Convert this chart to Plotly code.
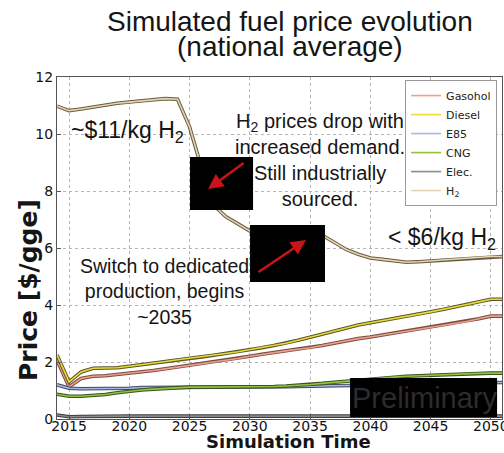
import plotly.graph_objects as go

years = [2014, 2015, 2016, 2017, 2018, 2019, 2020, 2021, 2022, 2023, 2024, 2025,
         2026, 2027, 2028, 2029, 2030, 2031, 2032, 2033, 2034, 2035, 2036, 2037,
         2038, 2039, 2040, 2041, 2042, 2043, 2044, 2045, 2046, 2047, 2048, 2049,
         2050, 2051]

gasohol = [2.07, 1.13, 1.42, 1.50, 1.52, 1.56, 1.60, 1.65, 1.70, 1.76, 1.82, 1.88,
           1.93, 1.99, 2.05, 2.12, 2.20, 2.27, 2.33, 2.39, 2.45, 2.50, 2.58, 2.66,
           2.75, 2.82, 2.88, 2.95, 3.02, 3.09, 3.16, 3.23, 3.29, 3.35, 3.42, 3.52,
           3.61, 3.61]
diesel = [2.25, 1.30, 1.65, 1.78, 1.79, 1.80, 1.85, 1.90, 1.96, 2.02, 2.08, 2.13,
          2.18, 2.24, 2.30, 2.36, 2.43, 2.50, 2.58, 2.66, 2.76, 2.87, 2.98, 3.09,
          3.20, 3.30, 3.38, 3.45, 3.53, 3.61, 3.68, 3.76, 3.84, 3.93, 4.02, 4.11,
          4.20, 4.20]
e85 = [1.20, 1.08, 1.06, 1.06, 1.06, 1.07, 1.08, 1.10, 1.10, 1.10, 1.10, 1.10,
       1.10, 1.10, 1.10, 1.10, 1.10, 1.11, 1.12, 1.13, 1.14, 1.15, 1.16, 1.17,
       1.18, 1.19, 1.20, 1.21, 1.22, 1.23, 1.24, 1.25, 1.26, 1.27, 1.27, 1.28,
       1.28, 1.28]
cng = [0.87, 0.80, 0.80, 0.82, 0.86, 0.92, 0.98, 1.02, 1.05, 1.08, 1.10, 1.12,
       1.12, 1.12, 1.12, 1.12, 1.12, 1.13, 1.14, 1.16, 1.18, 1.21, 1.25, 1.29,
       1.33, 1.37, 1.41, 1.44, 1.47, 1.50, 1.52, 1.54, 1.56, 1.57, 1.58, 1.60,
       1.61, 1.61]
elec = [0.14, 0.08, 0.09, 0.10, 0.10, 0.10, 0.10, 0.10, 0.10, 0.10, 0.10, 0.10,
        0.10, 0.10, 0.10, 0.10, 0.10, 0.10, 0.10, 0.10, 0.10, 0.10, 0.10, 0.10,
        0.10, 0.10, 0.10, 0.10, 0.10, 0.10, 0.10, 0.10, 0.10, 0.10, 0.10, 0.10,
        0.10, 0.10]
h2 = [10.98, 10.82, 10.88, 10.95, 11.02, 11.08, 11.12, 11.16, 11.20, 11.24, 11.22, 10.25,
      8.80, 7.50, 7.10, 6.85, 6.60, 6.55, 6.52, 6.50, 6.50, 6.48, 6.45, 6.20,
      5.95, 5.78, 5.65, 5.60, 5.55, 5.50, 5.52, 5.55, 5.58, 5.60, 5.63, 5.66,
      5.70, 5.70]

series_names = ["Gasohol", "Diesel", "E85", "CNG", "Elec.", "H<sub>2</sub>"]
series_values = [gasohol, diesel, e85, cng, elec, h2]
core_colors = ["#eea08e", "#e6dc3c", "#a9b7e6", "#8fc43c", "#8a8a8a", "#e4d6b4"]
edge_colors = ["#7a4c42", "#5c5424", "#3e4660", "#3e5222", "#3c3c3c", "#6a5a40"]

y_ticks = [0, 2, 4, 6, 8, 10, 12]
x_ticks = [2015, 2020, 2025, 2030, 2035, 2040, 2045, 2050]

fig = go.Figure()
for name, vals, cc, ec in zip(series_names, series_values, core_colors, edge_colors):
    fig.add_trace(go.Scatter(x=years, y=vals, mode="lines", line=dict(color=ec, width=3.6),
                             legendgroup=name, showlegend=False, hoverinfo="skip"))
    fig.add_trace(go.Scatter(x=years, y=vals, mode="lines", line=dict(color=cc, width=1.6),
                             name=name, legendgroup=name))

grid = dict(showgrid=True, gridcolor="#b5b5b5", griddash="dot", gridwidth=1,
            showline=True, linecolor="#555555", linewidth=1, mirror=True,
            ticks="inside", ticklen=4, tickcolor="#555555", ticklabeloverflow="allow",
            automargin=False,
            tickfont=dict(family="DejaVu Sans", size=14, color="#111111"), zeroline=False)

fig.update_layout(
    width=504, height=453,
    margin=dict(l=57, r=2, t=77, b=34, autoexpand=False),
    paper_bgcolor="white", plot_bgcolor="white",
    xaxis=dict(range=[2014, 2050.93], tickvals=x_ticks, ticklabelstandoff=-6, **grid),
    yaxis=dict(range=[0, 12], tickvals=y_ticks, **grid),
    legend=dict(x=0.989, xanchor="right", y=0.991, yanchor="top",
                bgcolor="white", bordercolor="#9a9a9a", borderwidth=1,
                font=dict(family="DejaVu Sans", size=11, color="#222222"),
                itemwidth=30, tracegroupgap=0),
    showlegend=True,
)

# black cover boxes
boxes = [(2025.04, 2030.27, 7.33, 9.19), (2030.02, 2036.24, 4.81, 6.81),
         (2038.32, 2050.52, 0.07, 1.44)]
for x0, x1, y0, y1 in boxes:
    fig.add_shape(type="rect", xref="x", yref="y", x0=x0, x1=x1, y0=y0, y1=y1,
                  fillcolor="black", line=dict(width=0), layer="above")

txt = "Liberation Sans"
anns = [
    dict(text="Simulated fuel price evolution", xref="paper", yref="paper",
         x=(290 - 57) / 445, y=(419 - 21) / 342, font=dict(size=28)),
    dict(text="(national average)", xref="paper", yref="paper",
         x=(290 - 57) / 445, y=(419 - 47) / 342, font=dict(size=28)),
    dict(text="~$11/kg H<sub>2</sub>", xref="x", yref="y", x=2019.85, y=10.1,
         font=dict(size=23)),
    dict(text="< $6/kg H<sub>2</sub>", xref="x", yref="y", x=2045.95, y=6.32,
         font=dict(size=23)),
    dict(text="H<sub>2</sub> prices drop with<br>increased demand.<br>Still industrially<br>sourced.",
         xref="x", yref="y", x=2035.83, y=9.09, font=dict(size=20)),
    dict(text="Switch to dedicated<br>production, begins<br>~2035",
         xref="x", yref="y", x=2022.88, y=4.46, font=dict(size=19.5)),
    dict(text="Preliminary", xref="x", yref="y", x=2044.54, y=0.74,
         font=dict(size=29, color="#2c2c2c")),
    dict(text="<b>Simulation Time</b>", xref="paper", yref="paper",
         x=(288 - 57) / 445, y=(419 - 441) / 342,
         font=dict(family="DejaVu Sans", size=18)),
    dict(text="<b>Price [$/gge]</b>", xref="paper", yref="paper",
         x=(28 - 57) / 445, y=(419 - 290) / 342, textangle=-90,
         font=dict(family="DejaVu Sans", size=25)),
]
for a in anns:
    f = dict(family=txt, color="#151515")
    f.update(a.pop("font"))
    fig.add_annotation(showarrow=False, xanchor="center", yanchor="middle", font=f, **a)

# red arrows inside boxes
arrows = [((2029.61, 9.02), (2026.54, 8.07)), ((2030.60, 5.12), (2034.67, 6.28))]
for (tx, ty), (hx, hy) in arrows:
    fig.add_annotation(x=hx, y=hy, ax=tx, ay=ty, xref="x", yref="y", axref="x", ayref="y",
                       text="", showarrow=True, arrowhead=2, arrowsize=1.2,
                       arrowwidth=2.5, arrowcolor="#c8141a")

fig.write_html("out.html", config={"displayModeBar": False},
               post_script="document.body.style.margin='0';document.body.style.overflow='hidden';")
